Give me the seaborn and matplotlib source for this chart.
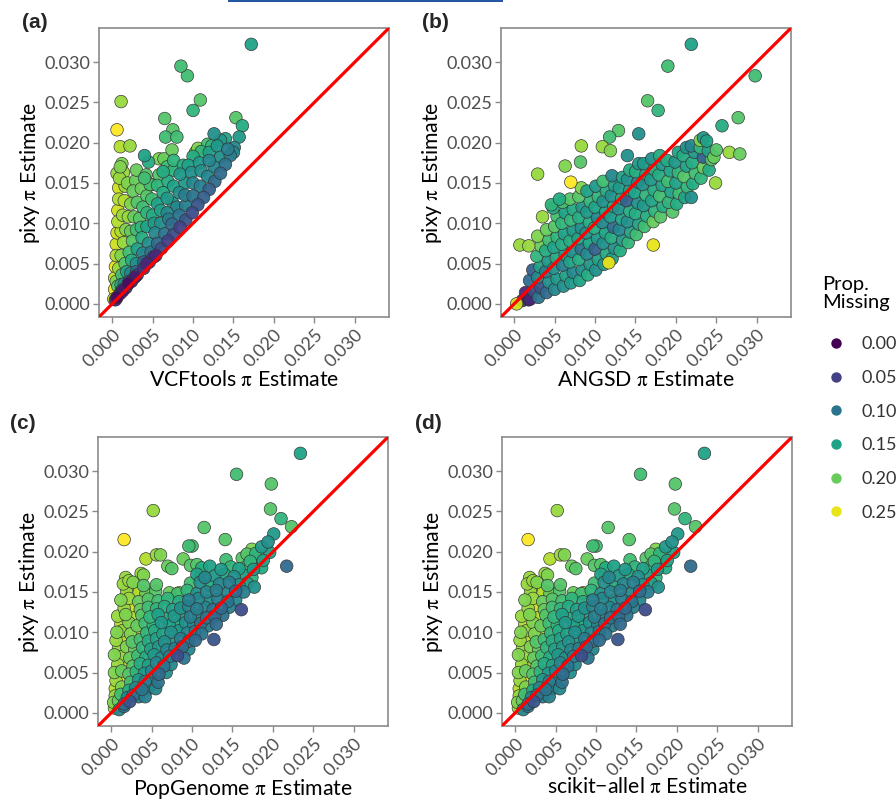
import matplotlib
matplotlib.use("Agg")
import matplotlib.pyplot as plt
import matplotlib.patches as mpatches
from matplotlib.lines import Line2D
from matplotlib.colors import Normalize
import seaborn as sns
import numpy as np
import pandas as pd

# ---- (a) VCFtools vs pixy ----
vcftools_pi = [
    0.4, 1.0, 1.7, 2.4, 3.1, 3.9, 4.6, 5.4, 6.1, 6.9, 7.6, 8.4, 9.1, 9.9, 10.6, 11.3, 12.0, 12.7, 13.4, 14.0, 14.6, 15.1,
    0.6, 1.3, 2.0, 2.8, 4.3, 5.1,
    1.2, 2.1, 3.0, 3.9, 4.8, 5.6, 6.5, 7.4, 8.3, 9.1, 10.0, 10.9, 11.8, 12.6, 13.4,
    7.0, 8.0, 9.0, 10.0, 11.0, 12.0,
    1.5, 2.3, 3.0, 3.8, 4.5, 5.3, 6.0, 6.8, 7.5, 8.3, 9.0, 9.8, 10.8, 12.0, 13.0,
    5.2, 6.0, 6.8, 7.6, 8.4, 9.4, 10.0,
    1.1, 1.8, 2.4, 3.1, 3.7, 4.3, 5.0, 5.6, 6.3, 6.9, 7.6, 8.8, 11.0, 12.3,
    3.6, 4.3, 4.9, 5.6, 6.3, 7.6,
    0.7, 1.2, 1.6, 2.1, 2.5, 3.0, 3.4, 3.8, 4.3, 4.7, 5.8, 6.8, 10.3, 4.0,
    2.3, 2.7, 3.1, 3.6, 4.2, 3.0,
    0.5, 0.8, 1.1, 1.4, 1.7, 2.0, 2.3, 2.6, 2.9, 1.9,
    1.1, 1.3, 1.5, 1.6, 1.4, 1.2,
    0.2, 0.3, 0.3, 0.4, 0.5, 0.5, 0.6, 0.7, 0.7, 0.8, 0.8, 0.9, 1.0, 0.6,
    17.2, 8.5, 9.3, 10.9, 10.0, 15.3, 16.1, 15.7, 12.6, 1.1, 0.6, 1.0, 2.2, 6.5, 7.5,
    6.6, 8.0, 7.4, 4.0, 4.5, 5.8, 6.4, 4.9, 13.4, 14.0, 15.0, 10.6, 11.8, 14.3,
]
vcftools_pixy = [
    0.5, 1.3, 2.0, 2.8, 3.6, 4.4, 5.2, 6.0, 6.9, 7.8, 8.6, 9.5, 10.4, 11.3, 12.3, 13.2, 14.2, 15.2, 16.2, 17.3, 18.4, 19.4,
    0.8, 1.6, 2.5, 3.3, 5.0, 5.8,
    1.7, 2.8, 4.0, 5.2, 6.4, 7.5, 8.7, 9.9, 11.0, 12.2, 13.4, 14.6, 15.8, 17.0, 18.2,
    10.5, 12.0, 13.5, 15.0, 16.5, 17.8,
    2.5, 3.8, 5.0, 6.3, 7.5, 8.8, 10.0, 11.3, 12.5, 13.8, 15.0, 16.3, 17.5, 18.8, 19.6,
    10.0, 11.6, 13.1, 14.6, 16.1, 17.2, 18.3,
    2.4, 4.0, 5.4, 6.8, 8.2, 9.6, 11.0, 12.4, 13.8, 15.2, 16.6, 17.2, 18.9, 19.6,
    9.5, 11.3, 13.0, 14.7, 16.4, 17.8,
    2.2, 3.6, 5.0, 6.4, 7.8, 9.2, 10.6, 12.0, 13.4, 14.8, 16.0, 17.0, 18.8, 15.6,
    9.0, 10.8, 12.6, 14.3, 16.0, 16.6,
    2.8, 4.4, 6.0, 7.6, 9.2, 10.8, 12.4, 14.0, 15.3, 15.0,
    9.0, 11.0, 12.8, 14.6, 16.3, 17.4,
    0.6, 1.8, 3.2, 4.6, 6.0, 7.4, 8.8, 10.2, 11.6, 13.0, 14.4, 15.6, 17.0, 16.2,
    32.2, 29.5, 28.3, 25.3, 24.0, 23.1, 22.1, 20.7, 21.1, 25.1, 21.6, 19.5, 19.6, 23.0, 21.6,
    20.7, 20.7, 19.1, 18.4, 17.6, 18.0, 18.0, 14.8, 20.3, 20.5, 18.8, 19.3, 19.8, 19.2,
]
vcftools_missing = [
    .03, .02, .04, .03, .05, .04, .05, .03, .06, .05, .06, .05, .07, .06, .07, .08, .08, .09, .09, .10, .11, .12,
    .01, .02, .01, .02, .03, .04,
    .09, .08, .09, .08, .10, .09, .10, .09, .10, .11, .10, .11, .12, .12, .13,
    .11, .12, .11, .12, .13, .12,
    .12, .12, .13, .12, .13, .12, .13, .12, .14, .13, .14, .13, .14, .15, .14,
    .14, .15, .14, .15, .14, .15, .16,
    .16, .15, .16, .15, .16, .15, .16, .15, .16, .16, .17, .16, .17, .17,
    .17, .17, .18, .17, .16, .17,
    .19, .18, .19, .18, .19, .18, .19, .18, .19, .18, .19, .18, .21, .18,
    .20, .20, .19, .20, .19, .20,
    .21, .22, .21, .22, .21, .22, .21, .20, .20, .21,
    .23, .22, .23, .22, .22, .21,
    .24, .25, .24, .25, .23, .24, .24, .23, .24, .23, .24, .22, .21, .22,
    .15, .18, .18, .19, .17, .19, .16, .14, .13, .22, .26, .23, .22, .19, .19,
    .18, .18, .20, .15, .16, .21, .20, .25, .14, .15, .12, .21, .18, .11,
]

# ---- (b) ANGSD vs pixy ----
angsd_pi = [
    1.0, 1.4, 1.8,
    2.0, 2.4, 1.9, 2.3,
    3.0, 3.3, 2.9, 3.2, 2.8, 3.3, 2.9,
    4.0, 4.3, 3.9, 4.2, 3.9, 4.3, 4.0,
    5.0, 5.3, 4.9, 5.2, 4.9, 5.3, 5.0, 5.3, 4.8,
    6.1, 6.4, 6.0, 6.3, 5.9, 6.2, 5.9, 6.3, 6.0,
    7.0, 7.3, 6.9, 7.2, 6.9, 7.3, 7.0, 7.3, 6.9,
    8.1, 8.4, 8.0, 8.3, 7.9, 8.3, 8.0, 8.4, 8.0, 8.3,
    9.1, 9.4, 9.0, 9.3, 8.9, 9.3, 9.0, 9.4, 9.0,
    10.1, 10.4, 10.0, 10.3, 9.9, 10.3, 10.0, 10.4, 10.1,
    11.1, 11.4, 11.0, 11.3, 10.9, 11.3, 11.0, 11.4, 11.0,
    12.1, 12.4, 12.0, 12.3, 11.9, 12.3, 12.0, 12.4, 12.1,
    13.1, 13.4, 13.0, 13.3, 12.9, 13.3, 13.0, 13.4,
    14.1, 14.4, 14.0, 14.3, 13.9, 14.3, 14.0, 14.3,
    15.1, 15.4, 15.0, 15.3, 14.9, 15.3, 15.0, 15.4,
    16.1, 16.4, 16.0, 16.3, 15.9, 16.3, 16.0,
    17.2, 17.4, 17.0, 17.3, 16.9, 17.3, 17.0,
    18.1, 18.4, 18.0, 18.3, 17.9, 18.3, 18.0,
    19.6, 19.1, 19.4, 19.0, 19.3, 18.9,
    20.1, 20.4, 20.0, 20.3, 19.9, 20.3,
    21.1, 21.4, 21.0, 21.3, 20.9, 21.3,
    21.9, 22.1, 22.4, 22.0, 22.3, 21.9,
    23.1, 23.4, 23.4, 23.0, 23.0, 23.4,
    24.1, 24.4, 24.0, 23.8,
    24.7, 25.0,
    21.9, 19.0, 29.8, 16.5, 17.8, 27.7, 25.7, 15.4, 12.9, 11.8, 2.9, 8.3, 10.9, 11.9, 6.3,
    8.2, 26.6, 27.9, 24.9, 17.2, 11.7, 0.7, 1.8, 0.3, 7.0, 14.0, 4.6, 5.6, 3.5,
]
angsd_pixy = [
    0.4, 1.4, 0.5,
    0.6, 1.6, 2.9, 4.2,
    0.8, 2.0, 3.3, 4.6, 5.9, 7.2, 8.4,
    1.4, 2.7, 4.0, 5.3, 6.6, 7.9, 9.2,
    1.8, 3.1, 4.4, 5.7, 7.0, 8.3, 9.6, 10.9, 11.9,
    2.2, 3.5, 4.8, 6.1, 7.4, 8.7, 10.0, 11.3, 12.6,
    2.6, 3.9, 5.2, 6.5, 7.8, 9.1, 10.4, 11.7, 13.0,
    2.9, 4.2, 5.5, 6.8, 8.1, 9.4, 10.7, 12.0, 13.3, 14.4,
    3.6, 4.9, 6.2, 7.5, 8.8, 10.1, 11.4, 12.7, 14.0,
    4.2, 5.5, 6.8, 8.1, 9.4, 10.7, 12.0, 13.3, 14.6,
    4.9, 6.2, 7.5, 8.8, 10.1, 11.4, 12.7, 14.0, 15.2,
    5.6, 6.9, 8.2, 9.5, 10.8, 12.1, 13.4, 14.7, 15.9,
    6.6, 7.9, 9.2, 10.5, 11.8, 13.1, 14.4, 15.7,
    7.6, 8.9, 10.2, 11.5, 12.8, 14.1, 15.4, 16.6,
    8.6, 9.9, 11.2, 12.5, 13.8, 15.1, 16.4, 17.4,
    9.6, 10.9, 12.2, 13.5, 14.8, 16.1, 17.4,
    10.2, 11.5, 12.8, 14.1, 15.4, 16.7, 18.0,
    10.8, 12.1, 13.4, 14.7, 16.0, 17.3, 18.4,
    11.4, 12.6, 13.9, 15.2, 16.5, 17.8,
    12.4, 13.7, 15.0, 16.3, 17.6, 18.8,
    13.2, 14.5, 15.8, 17.1, 18.4, 19.4,
    13.2, 14.9, 16.2, 17.5, 18.8, 19.6,
    15.6, 16.9, 18.2, 19.4, 20.3, 20.6,
    16.6, 17.9, 19.0, 20.2,
    18.2, 19.1,
    32.2, 29.5, 28.3, 25.2, 24.0, 23.1, 22.1, 21.1, 21.5, 20.7, 16.1, 19.6, 19.5, 19.0, 17.1,
    17.6, 18.8, 18.6, 15.0, 7.3, 5.1, 7.3, 7.2, 0.0, 15.1, 18.4, 12.3, 13.0, 10.8,
]
angsd_missing = [
    .04, .03, .02,
    .03, .06, .09, .08,
    .10, .07, .12, .15, .17, .20, .21,
    .09, .13, .11, .14, .16, .18, .20,
    .12, .14, .13, .16, .15, .17, .19, .18, .16,
    .13, .15, .11, .14, .16, .15, .17, .15, .18,
    .14, .12, .15, .13, .16, .14, .17, .16, .19,
    .15, .13, .16, .10, .15, .13, .16, .14, .19, .21,
    .16, .14, .12, .15, .13, .16, .14, .17, .15,
    .13, .15, .08, .14, .16, .12, .15, .17, .14,
    .14, .16, .13, .15, .12, .15, .13, .16, .18,
    .15, .13, .16, .09, .14, .16, .13, .15, .12,
    .16, .14, .12, .15, .13, .16, .14, .15,
    .17, .15, .13, .16, .08, .15, .13, .16,
    .18, .15, .16, .13, .15, .12, .16, .14,
    .18, .16, .14, .17, .13, .15, .14,
    .20, .17, .15, .16, .14, .16, .13,
    .19, .16, .18, .15, .16, .14, .16,
    .19, .17, .15, .18, .15, .16,
    .16, .18, .15, .17, .14, .15,
    .15, .17, .19, .15, .16, .13,
    .13, .16, .18, .16, .14, .12,
    .17, .20, .08, .17, .21, .14,
    .16, .19, .15, .15,
    .20, .19,
    .15, .18, .18, .19, .17, .19, .16, .13, .19, .18, .22, .22, .22, .21, .21,
    .19, .22, .20, .22, .25, .25, .22, .22, .24, .26, .13, .17, .16, .22,
]

# ---- (c) PopGenome vs pixy ----
popgenome_pi = [
    0.4, 1.0, 1.6,
    0.3, 0.9, 1.6, 2.3,
    0.5, 1.2, 2.0, 2.7, 3.4, 4.2,
    0.5, 1.3, 2.2, 3.0, 3.8, 4.6, 5.5,
    0.6, 1.5, 2.4, 3.4, 4.2, 5.0, 5.8,
    0.4, 1.3, 2.2, 3.1, 4.1, 5.0, 5.9, 6.8,
    0.8, 1.7, 2.7, 3.6, 4.6, 5.6, 6.5, 7.4,
    0.4, 1.3, 2.3, 3.3, 4.3, 5.3, 6.2, 7.2, 8.2, 9.0,
    0.9, 1.9, 2.9, 3.9, 4.9, 5.9, 6.9, 7.9, 8.8, 9.6,
    0.6, 1.6, 2.6, 3.6, 4.6, 5.6, 6.6, 7.6, 8.6, 9.6, 10.4, 12.7,
    0.7, 1.4, 2.4, 3.4, 4.4, 5.4, 6.4, 7.4, 8.4, 9.4, 10.4, 11.2,
    1.2, 2.2, 3.2, 4.2, 5.2, 6.2, 7.2, 8.2, 9.2, 10.2, 11.1, 12.0, 13.0,
    0.8, 1.8, 2.8, 3.8, 4.8, 5.8, 6.8, 7.8, 8.8, 9.8, 10.8, 11.8, 12.8, 13.8,
    1.6, 2.6, 3.6, 4.6, 5.6, 6.6, 7.6, 8.6, 9.6, 10.6, 11.6, 12.6, 13.6, 14.6,
    1.2, 2.2, 3.4, 4.6, 5.8, 7.0, 8.4, 9.6, 10.8, 12.0, 13.2, 14.4, 15.4,
    1.9, 3.1, 3.7, 4.3, 5.5, 7.2, 8.4, 9.4, 10.6, 11.8, 13.0, 14.2, 15.4, 16.4, 17.7,
    1.5, 2.7, 4.0, 5.6, 9.8, 11.0, 12.2, 13.4, 14.6, 15.8, 16.8,
    1.8, 4.0, 10.6, 11.6, 12.8, 14.0, 15.2, 16.4, 17.4,
    11.2, 12.2, 13.6, 14.8, 15.8, 16.8, 17.6, 18.6,
    14.2, 16.2, 17.2, 18.0, 18.8,
    23.4, 15.5, 19.8, 5.2, 19.7, 21.0, 22.3, 11.5, 1.6, 14.1, 20.1, 19.4, 9.6, 10.0, 21.7, 16.1, 4.3,
    5.6, 6.1, 8.9, 7.0, 7.5, 10.6, 17.4, 16.8, 17.9, 2.2, 2.0, 3.7, 9.8, 11.1, 8.2, 18.6, 19.6,
]
popgenome_pixy = [
    0.6, 0.4, 0.8,
    1.3, 1.5, 1.1, 1.4,
    2.1, 2.3, 1.9, 2.2, 2.0, 2.0,
    3.0, 3.2, 2.8, 3.1, 2.9, 3.0, 3.0,
    4.0, 4.2, 3.8, 4.1, 3.9, 4.2, 3.8,
    5.0, 5.2, 4.8, 5.1, 4.9, 5.2, 4.8, 5.0,
    6.0, 6.2, 5.8, 6.1, 5.9, 6.2, 5.8, 6.0,
    7.2, 7.0, 6.8, 7.1, 6.9, 7.2, 6.8, 7.0, 7.1, 6.8,
    8.0, 8.2, 7.8, 8.1, 7.9, 8.2, 7.8, 8.0, 8.2, 7.9,
    9.0, 9.2, 8.8, 9.1, 8.9, 9.2, 8.8, 9.0, 9.2, 8.9, 9.0, 9.1,
    10.0, 10.2, 9.8, 10.1, 9.9, 10.2, 9.8, 10.0, 10.2, 9.9, 10.1, 9.8,
    11.0, 11.2, 10.8, 11.1, 10.9, 11.2, 10.8, 11.0, 11.2, 10.9, 11.1, 10.8, 11.0,
    12.0, 12.2, 11.8, 12.1, 11.9, 12.2, 11.8, 12.0, 12.2, 11.9, 12.1, 11.8, 12.0, 12.1,
    13.0, 13.2, 12.8, 13.1, 12.9, 13.2, 12.8, 13.0, 13.2, 12.9, 13.1, 12.8, 13.0, 13.1,
    14.0, 14.2, 13.8, 14.1, 13.9, 14.2, 13.8, 14.0, 14.2, 13.9, 14.1, 13.8, 14.0,
    15.0, 15.2, 15.1, 14.8, 15.1, 14.9, 14.9, 15.2, 14.8, 15.0, 15.2, 14.9, 15.1, 15.0, 15.6,
    16.0, 16.2, 15.8, 15.9, 16.1, 16.2, 15.8, 16.0, 16.2, 15.9, 16.1,
    16.8, 17.1, 17.2, 16.8, 17.0, 17.2, 16.9, 17.1, 16.8,
    18.0, 18.2, 17.8, 18.1, 17.9, 18.2, 17.8, 18.0,
    19.0, 19.2, 18.8, 19.1, 18.9,
    32.2, 29.6, 28.4, 25.1, 25.3, 24.1, 23.1, 23.0, 21.5, 21.5, 22.2, 21.2, 20.7, 20.7, 18.2, 12.8, 19.1,
    19.6, 19.6, 19.1, 18.2, 17.9, 18.4, 20.3, 19.7, 19.8, 16.4, 15.4, 17.3, 18.3, 17.2, 14.8, 20.6, 19.9,
]
popgenome_missing = [
    .22, .12, .10,
    .21, .20, .09, .07,
    .22, .18, .12, .10, .11, .11,
    .23, .21, .16, .12, .10, .13, .12,
    .22, .25, .18, .14, .11, .12, .10,
    .21, .20, .19, .17, .14, .12, .09, .13,
    .22, .23, .19, .16, .15, .12, .10, .12,
    .21, .22, .20, .18, .16, .14, .13, .11, .06, .10,
    .22, .21, .20, .17, .15, .14, .12, .11, .09, .12,
    .22, .23, .19, .18, .16, .15, .13, .14, .11, .10, .09, .07,
    .21, .22, .21, .24, .17, .16, .15, .13, .14, .12, .11, .10,
    .23, .21, .20, .18, .17, .14, .15, .16, .13, .12, .10, .11, .09,
    .22, .21, .23, .19, .17, .15, .16, .14, .15, .11, .12, .10, .09, .10,
    .22, .24, .20, .18, .17, .16, .15, .13, .12, .11, .12, .10, .09, .11,
    .21, .22, .20, .19, .18, .17, .16, .11, .12, .13, .11, .10, .12,
    .22, .23, .26, .20, .19, .20, .24, .17, .13, .12, .11, .12, .09, .11, .13,
    .22, .21, .19, .19, .18, .13, .16, .12, .11, .13, .15,
    .22, .21, .15, .12, .14, .16, .13, .15, .17,
    .16, .15, .14, .17, .15, .18, .14, .16,
    .18, .19, .17, .18, .15,
    .15, .18, .19, .22, .19, .17, .19, .19, .26, .19, .14, .13, .18, .18, .09, .06, .23,
    .22, .21, .20, .20, .19, .19, .21, .19, .17, .22, .22, .22, .19, .18, .18, .14, .15,
]

# ---- (d) scikit-allel vs pixy: same estimates as PopGenome ----
scikit_allel_pi = list(popgenome_pi)
scikit_allel_pixy = list(popgenome_pixy)
scikit_allel_missing = list(popgenome_missing)

legend_levels = [0.00, 0.05, 0.10, 0.15, 0.20, 0.25]
tick_values = [0.000, 0.005, 0.010, 0.015, 0.020, 0.025, 0.030]

# ---- style ----
sns.set_theme(style="white")
plt.rcParams['font.family'] = ['Lato', 'DejaVu Sans']
plt.rcParams['mathtext.fontset'] = 'stix'

W, H = 896, 800
fig = plt.figure(figsize=(W / 100, H / 100), dpi=100)
fig.patch.set_facecolor('white')

norm = Normalize(vmin=0.0, vmax=0.26)
cmap = sns.color_palette("viridis", as_cmap=True)
lims = (-0.00163, 0.03423)

# tag, method, x, y, missing, box top-left (px), tag pos (px), xlabel y, sort by missing
panels = [
    ("(a)", "VCFtools", vcftools_pi, vcftools_pixy, vcftools_missing, (99, 28), (22, 23), -0.185, True),
    ("(b)", "ANGSD", angsd_pi, angsd_pixy, angsd_missing, (501, 28), (422, 23), -0.185, False),
    ("(c)", "PopGenome", popgenome_pi, popgenome_pixy, popgenome_missing, (98, 437), (10, 423), -0.178, True),
    ("(d)", "scikit\u2212allel", scikit_allel_pi, scikit_allel_pixy, scikit_allel_missing, (502, 437), (415, 423), -0.178, True),
]

for tag, method, xs, ys, ms, (left, top), (tx, ty), xlab_y, sort_pts in panels:
    assert len(xs) == len(ys) == len(ms), (tag, len(xs), len(ys), len(ms))
    df = pd.DataFrame({
        "method_pi": np.array(xs) * 1e-3,
        "pixy_pi": np.array(ys) * 1e-3,
        "missing": ms,
    })
    if sort_pts:
        df = df.sort_values("missing", ascending=False)

    ax = fig.add_axes([left / W, 1 - (top + 289) / H, 290 / W, 289 / H])
    sns.scatterplot(data=df, x="method_pi", y="pixy_pi", hue="missing",
                    palette="viridis", hue_norm=(0.0, 0.26), s=82,
                    edgecolor="#333333", linewidth=0.5, alpha=0.95,
                    legend=False, ax=ax)
    ax.axline((0, 0), slope=1, color="#ff0000", lw=2.3, zorder=3)

    ax.set_xlim(lims)
    ax.set_ylim(lims)
    ax.set_xticks(tick_values)
    ax.set_yticks(tick_values)
    ax.set_xticklabels([f"{v:.3f}" for v in tick_values], rotation=45,
                       ha="right", va="top", rotation_mode="anchor")
    ax.set_yticklabels([f"{v:.3f}" for v in tick_values])
    ax.tick_params(axis="both", which="major", length=4.5, width=1.0,
                   color="#8a8a8a", labelcolor="#4d4d4d", labelsize=13,
                   pad=2, left=True, bottom=True)
    for sp in ax.spines.values():
        sp.set_color("#8a8a8a")
        sp.set_linewidth(1.2)

    ax.set_xlabel(f"{method} $\\mathrm{{\\pi}}$ Estimate", fontsize=15.3, color="black", va="top")
    ax.set_ylabel("pixy $\\mathrm{\\pi}$ Estimate", fontsize=15.3, color="black")
    ax.xaxis.set_label_coords(0.5, xlab_y)
    ax.yaxis.set_label_coords(-0.195, 0.5)

    fig.text(tx / W, 1 - ty / H, tag, fontsize=15, fontweight="bold",
             family=["Liberation Sans", "DejaVu Sans"], ha="left", va="center")

# legend for proportion missing (title drawn as its own text so the gap matches)
fig.text(822 / W, 1 - 276 / H, "Prop.\nMissing", fontsize=14.5, color="black",
         ha="left", va="top", linespacing=1.05)
handles = [Line2D([], [], ls="", marker="o", markersize=7.5,
                  markerfacecolor=cmap(norm(v)), markeredgewidth=0)
           for v in legend_levels]
leg = fig.legend(handles, [f"{v:.2f}" for v in legend_levels],
                 loc="upper left", bbox_to_anchor=(805 / W, 1 - 320 / H),
                 frameon=False, fontsize=13, labelspacing=0.98,
                 handletextpad=0.59, handlelength=1.66)
for t in leg.get_texts():
    t.set_color("#333333")

# thin link underline cropped at the top of the page
fig.add_artist(mpatches.Rectangle((228 / W, 1 - 2 / H), (503 - 228) / W, 2 / H,
                                  transform=fig.transFigure, color="#2456a4", lw=0))

fig.savefig("out.png", dpi=100, facecolor="white")
